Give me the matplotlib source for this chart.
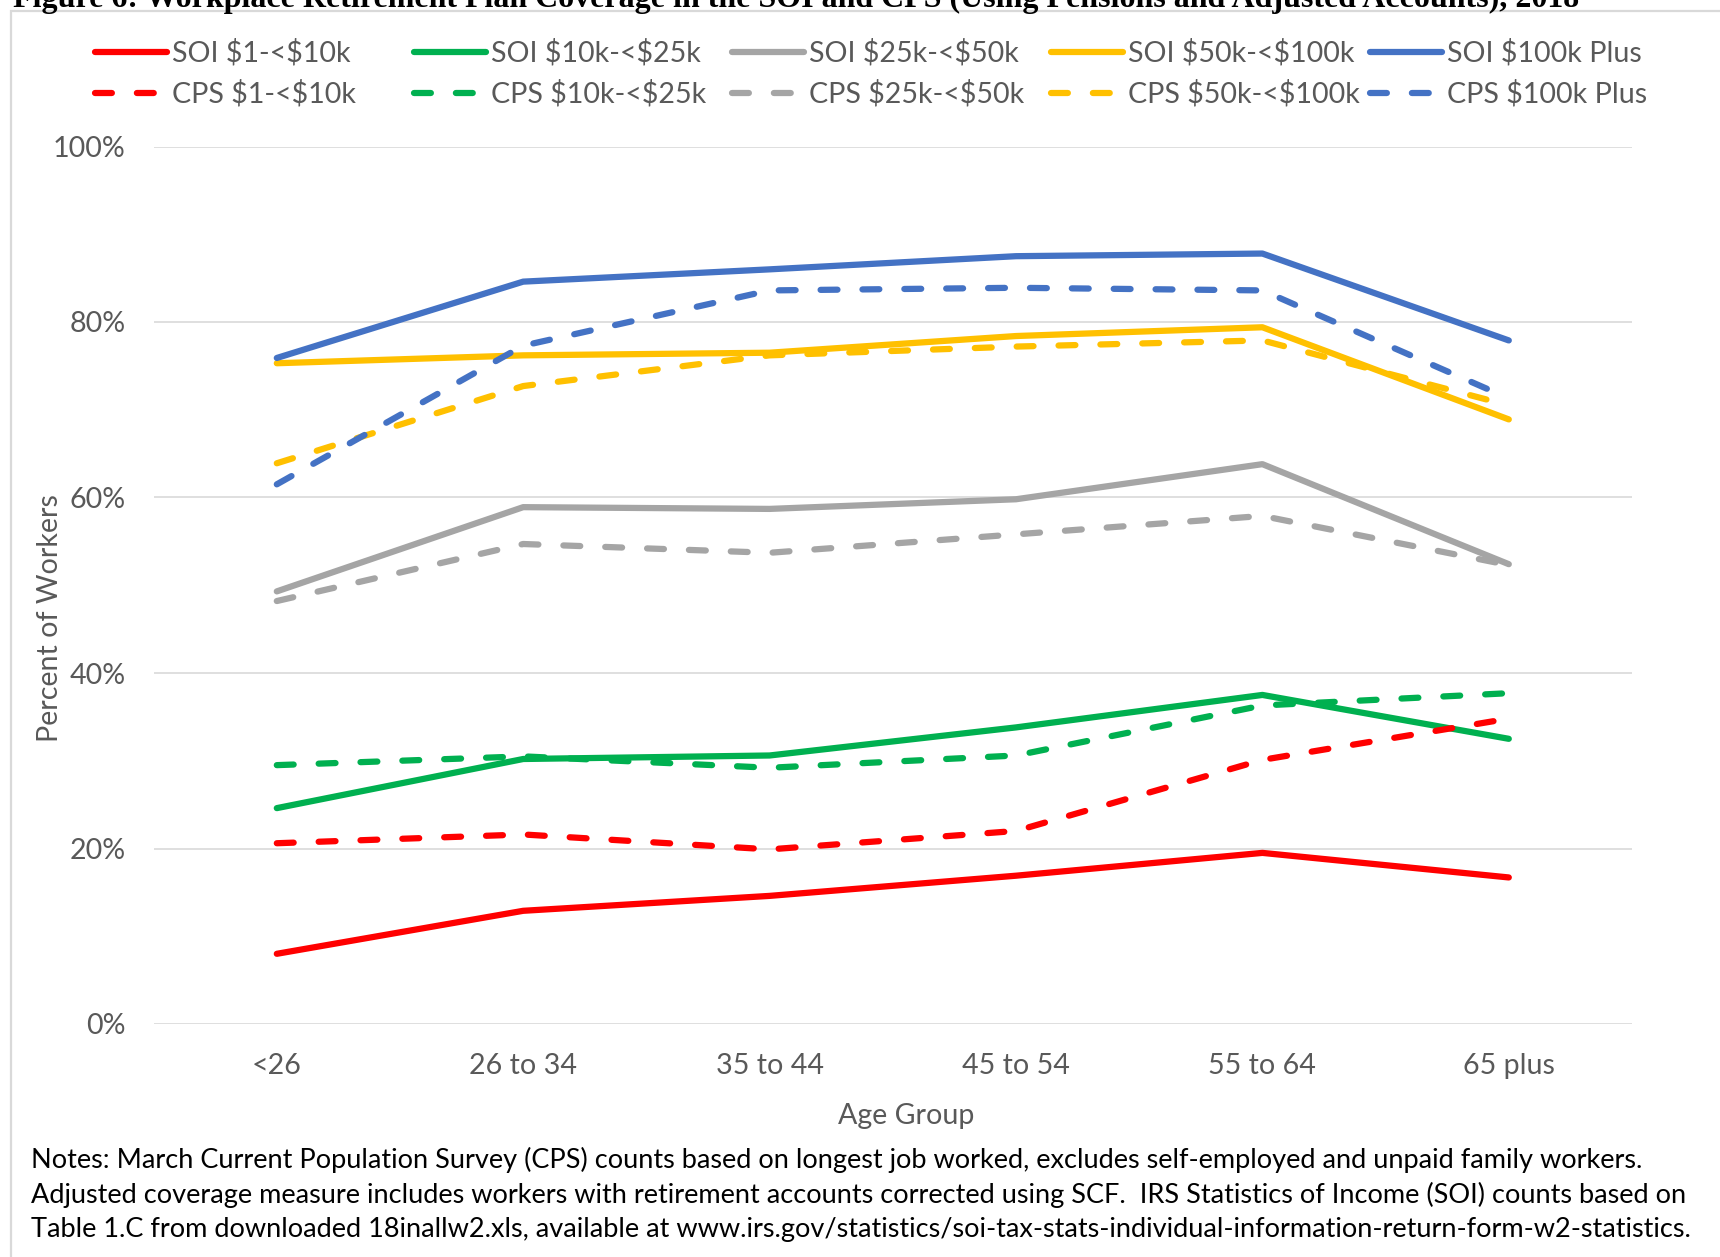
import matplotlib
matplotlib.use("Agg")
import matplotlib.pyplot as plt
import matplotlib.patches as mpatches
from matplotlib.lines import Line2D
from matplotlib.ticker import PercentFormatter
import numpy as np

plt.rcParams['text.parse_math'] = False  # dollar signs are plain text here

# ---- data ----
age_groups = ['<26', '26 to 34', '35 to 44', '45 to 54', '55 to 64', '65 plus']
brackets = ['$1-<$10k', '$10k-<$25k', '$25k-<$50k', '$50k-<$100k', '$100k Plus']

soi_1_10k    = [0.080, 0.129, 0.146, 0.169, 0.195, 0.167]
soi_10_25k   = [0.246, 0.302, 0.306, 0.338, 0.375, 0.325]
soi_25_50k   = [0.493, 0.589, 0.587, 0.598, 0.638, 0.524]
soi_50_100k  = [0.753, 0.762, 0.765, 0.784, 0.794, 0.689]
soi_100k     = [0.759, 0.846, 0.860, 0.875, 0.878, 0.779]

cps_1_10k    = [0.206, 0.216, 0.199, 0.220, 0.301, 0.348]
cps_10_25k   = [0.295, 0.305, 0.292, 0.306, 0.363, 0.377]
cps_25_50k   = [0.482, 0.547, 0.537, 0.558, 0.579, 0.523]
cps_50_100k  = [0.639, 0.727, 0.762, 0.772, 0.779, 0.705]
cps_100k     = [0.615, 0.773, 0.836, 0.839, 0.836, 0.713]

soi_series = [soi_1_10k, soi_10_25k, soi_25_50k, soi_50_100k, soi_100k]
cps_series = [cps_1_10k, cps_10_25k, cps_25_50k, cps_50_100k, cps_100k]
colors = ['#FF0000', '#00B050', '#A5A5A5', '#FFC000', '#4472C4']

W, H = 1720, 1257
FONT = 'Lato'
FS = 20.6
GREY_TXT = '#595959'
LW = 4.5
DASH = (2.7, 4.0)

fig = plt.figure(figsize=(W / 100, H / 100), dpi=100)

# chart frame (only top & left edges visible in the crop)
fig.add_artist(mpatches.Rectangle((11 / W, -0.1), 1.2, 1 - 11 / H + 0.1, transform=fig.transFigure,
                                  fill=False, edgecolor='#D9D9D9', linewidth=1.6))

ax = fig.add_axes([153.6 / W, 1 - 1024 / H, (1632 - 153.6) / W, (1024 - 146.5) / H])
x = np.arange(len(age_groups))

for vals, c in zip(soi_series, colors):
    ax.plot(x, vals, color=c, lw=LW, solid_capstyle='round', solid_joinstyle='round')
for vals, c in zip(cps_series, colors):
    ax.plot(x, vals, color=c, lw=LW, linestyle=(0, DASH), dash_capstyle='round', dash_joinstyle='round')

ax.set_xlim(-0.5, len(age_groups) - 0.5)
ax.set_ylim(0, 1)
ax.set_yticks(np.arange(0, 1.01, 0.2))
ax.yaxis.set_major_formatter(PercentFormatter(1.0, decimals=0))
ax.set_xticks(x)
ax.set_xticklabels(age_groups)
ax.grid(axis='y', color='#D9D9D9', lw=1.2)
ax.set_axisbelow(True)
for s in ax.spines.values():
    s.set_visible(False)
ax.tick_params(axis='both', length=0, labelsize=FS, labelcolor=GREY_TXT)
ax.tick_params(axis='y', pad=20)
ax.tick_params(axis='x', pad=21)
for lab in ax.get_xticklabels() + ax.get_yticklabels():
    lab.set_fontfamily(FONT)

fig.text(50 / W, 1 - 618 / H, 'Percent of Workers', rotation=90, ha='center', va='center',
         fontsize=FS, color=GREY_TXT, family=FONT)
fig.text(906 / W, 1 - 1116 / H, 'Age Group', ha='center', va='center',
         fontsize=FS, color=GREY_TXT, family=FONT)

# legend: one small legend per column so columns are evenly spaced like Excel
col_x = [95, 414, 732, 1051, 1370]
for i, c in enumerate(colors):
    handles = [Line2D([], [], color=c, lw=LW, solid_capstyle='round'),
               Line2D([], [], color=c, lw=LW, linestyle=(0, DASH), dash_capstyle='round')]
    labels = ['SOI ' + brackets[i], 'CPS ' + brackets[i]]
    leg = fig.legend(handles, labels, loc='center left', bbox_to_anchor=(col_x[i] / W, 1 - 73.5 / H),
                     frameon=False, borderpad=0, borderaxespad=0, handlelength=2.5, handletextpad=0.2,
                     labelspacing=0.47, prop={'family': FONT, 'size': FS})
    for t in leg.get_texts():
        t.set_color(GREY_TXT)

# notes under the chart
notes = [
    'Notes: March Current Population Survey (CPS) counts based on longest job worked, excludes self-employed and unpaid family workers.',
    'Adjusted coverage measure includes workers with retirement accounts corrected using SCF.  IRS Statistics of Income (SOI) counts based on',
    'Table 1.C from downloaded 18inallw2.xls, available at www.irs.gov/statistics/soi-tax-stats-individual-information-return-form-w2-statistics.',
]
for k, line in enumerate(notes):
    fig.text(31 / W, 1 - (1160 + 35 * k) / H, line, ha='left', va='center', fontsize=19.5,
             color='black', family=FONT)

# title, cut off by the top of the image
title = fig.text(13 / W, 1 - 6.5 / H,
                 'Figure 6: Workplace Retirement Plan Coverage in the SOI and CPS '
                 '(Using Pensions and Adjusted Accounts), 2018',
                 ha='left', va='baseline', fontsize=21, fontweight='bold', family='Liberation Serif')
r = fig.canvas.get_renderer()
tw = title.get_window_extent(r).width
title.set_fontsize(21 * 1565 / tw)

fig.savefig('out.png', dpi=100, facecolor='white')
